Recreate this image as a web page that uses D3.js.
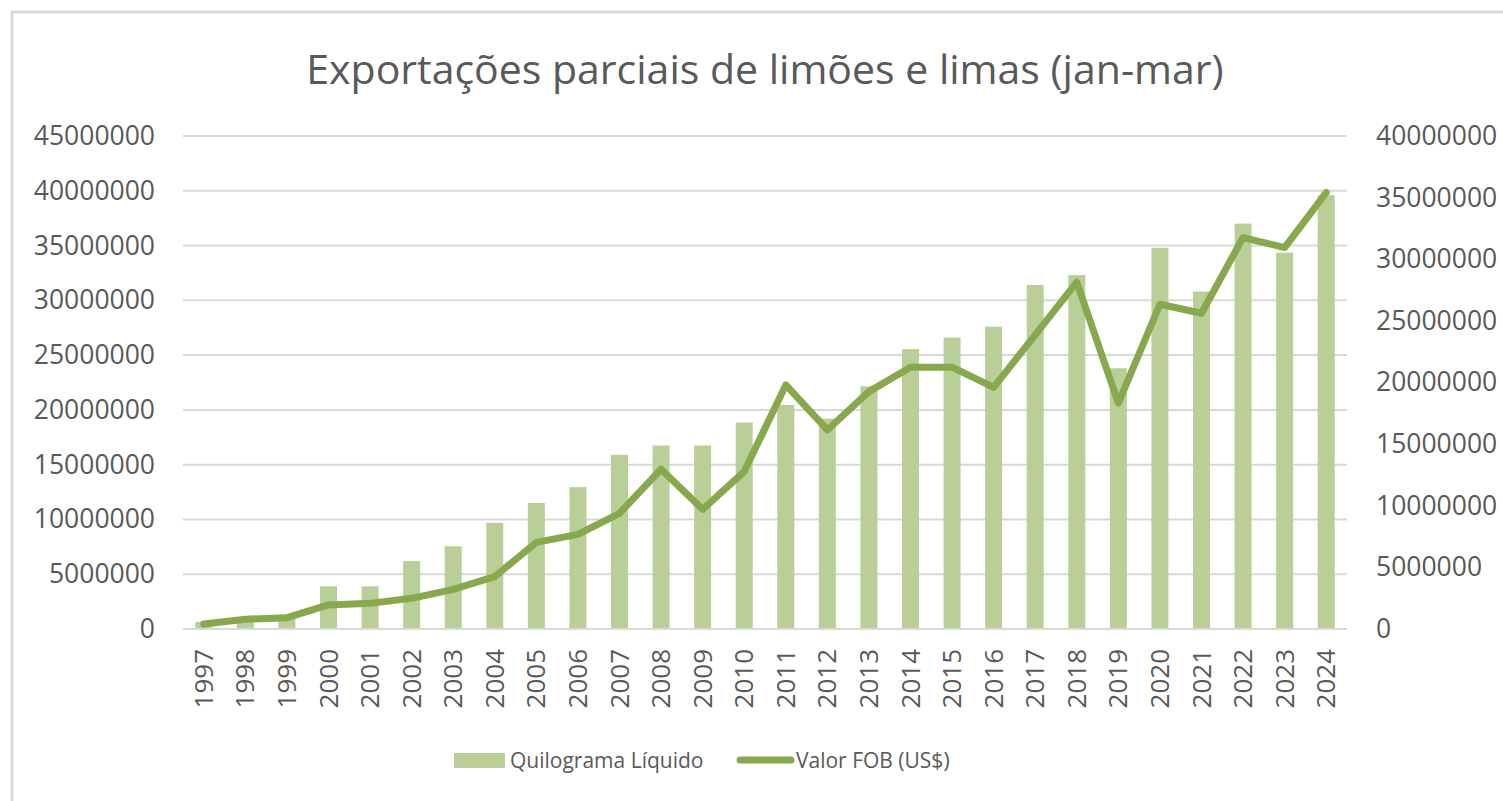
<!DOCTYPE html>
<html>
<head>
<meta charset="utf-8">
<script src="https://cdn.jsdelivr.net/npm/d3@7"></script>
<style>
  html, body { margin: 0; padding: 0; background: #fff; }
  svg { display: block; }
  text { font-family: "Open Sans", "Noto Sans", sans-serif; fill: #595959; }
</style>
</head>
<body>
<svg id="chart" width="1503" height="801"></svg>
<script>
const years = ["1997","1998","1999","2000","2001","2002","2003","2004","2005","2006","2007","2008","2009","2010","2011","2012","2013","2014","2015","2016","2017","2018","2019","2020","2021","2022","2023","2024"];
const kgLiquido = [650000,1000000,1300000,3900000,3900000,6200000,7550000,9700000,11500000,12950000,15900000,16750000,16750000,18850000,20450000,19200000,22150000,25550000,26600000,27600000,31400000,32300000,23800000,34800000,30800000,37000000,34350000,39600000];
const valorFOB = [400000,790000,920000,1950000,2080000,2490000,3220000,4250000,7030000,7680000,9390000,12960000,9710000,12770000,19800000,16150000,19260000,21240000,21240000,19600000,23860000,28140000,18320000,26350000,25620000,31760000,30950000,35410000];
const leftTicks = [0,5000000,10000000,15000000,20000000,25000000,30000000,35000000,40000000,45000000];
const rightTicks = [0,5000000,10000000,15000000,20000000,25000000,30000000,35000000,40000000];
const title = "Exportações parciais de limões e limas (jan-mar)";
const seriesNames = ["Quilograma Líquido", "Valor FOB (US$)"];

const barColor = "#B9CF97";
const lineColor = "#88A84E";
const gridColor = "#D9D9D9";

const svg = d3.select("#chart");
const plot = { left: 183, right: 1347, top: 136, bottom: 629 };

// outer border
svg.append("rect").attr("x", 12).attr("y", 12).attr("width", 1510).attr("height", 810)
  .attr("fill", "none").attr("stroke", gridColor).attr("stroke-width", 3);

const xc = d3.scaleBand().domain(years).range([plot.left, plot.right]);
const yL = d3.scaleLinear().domain([0, 45000000]).range([plot.bottom, plot.top]);
const yR = d3.scaleLinear().domain([0, 40000000]).range([plot.bottom, plot.top]);

// gridlines
svg.append("g").selectAll("line").data(leftTicks).join("line")
  .attr("x1", plot.left).attr("x2", plot.right)
  .attr("y1", d => yL(d)).attr("y2", d => yL(d))
  .attr("stroke", gridColor).attr("stroke-width", 2);

// left axis
const gL = svg.append("g").attr("transform", `translate(${plot.left},0)`)
  .call(d3.axisLeft(yL).tickValues(leftTicks).tickFormat(d3.format("d")).tickSize(0).tickPadding(28));
gL.select(".domain").remove();
gL.selectAll("text").style("font-size", "26.5px").attr("fill", "#595959").style("font-family", null);

// right axis
const gR = svg.append("g").attr("transform", `translate(${plot.right},0)`)
  .call(d3.axisRight(yR).tickValues(rightTicks).tickFormat(d3.format("d")).tickSize(0).tickPadding(29));
gR.select(".domain").remove();
gR.selectAll("text").style("font-size", "26.5px").attr("fill", "#595959").style("font-family", null);

// bars
svg.append("g").selectAll("rect").data(years).join("rect")
  .attr("x", (d) => xc(d) + xc.bandwidth() / 2 - 8.5)
  .attr("width", 17)
  .attr("y", (d, i) => yL(kgLiquido[i]))
  .attr("height", (d, i) => plot.bottom - yL(kgLiquido[i]))
  .attr("fill", barColor);

// baseline
svg.append("line").attr("x1", plot.left).attr("x2", plot.right)
  .attr("y1", plot.bottom).attr("y2", plot.bottom)
  .attr("stroke", gridColor).attr("stroke-width", 2);

// line
const line = d3.line()
  .x((d, i) => xc(years[i]) + xc.bandwidth() / 2)
  .y(d => yR(d));
svg.append("path").datum(valorFOB).attr("d", line)
  .attr("fill", "none").attr("stroke", lineColor).attr("stroke-width", 7)
  .attr("stroke-linejoin", "round").attr("stroke-linecap", "round");

// x axis
const gX = svg.append("g").attr("transform", `translate(0,${plot.bottom})`)
  .call(d3.axisBottom(xc).tickSize(0).tickPadding(0));
gX.select(".domain").remove();
gX.selectAll("text")
  .style("font-size", "26px").style("font-family", null).attr("fill", "#595959")
  .attr("transform", "rotate(-90)")
  .attr("text-anchor", "end")
  .attr("x", -20).attr("y", 0).attr("dy", "0.35em");

// title
svg.append("text").attr("x", 765).attr("y", 84).attr("text-anchor", "middle")
  .style("font-size", "41px").text(title);

// legend
const leg = svg.append("g");
leg.append("rect").attr("x", 454).attr("y", 753).attr("width", 51).attr("height", 15).attr("fill", barColor);
leg.append("text").attr("x", 510).attr("y", 761).attr("dy", "0.35em").style("font-size", "21px").text(seriesNames[0]);
leg.append("line").attr("x1", 740).attr("x2", 791).attr("y1", 760).attr("y2", 760)
  .attr("stroke", lineColor).attr("stroke-width", 7).attr("stroke-linecap", "round");
leg.append("text").attr("x", 796).attr("y", 761).attr("dy", "0.35em").style("font-size", "21px").text(seriesNames[1]);
</script>
</body>
</html>
